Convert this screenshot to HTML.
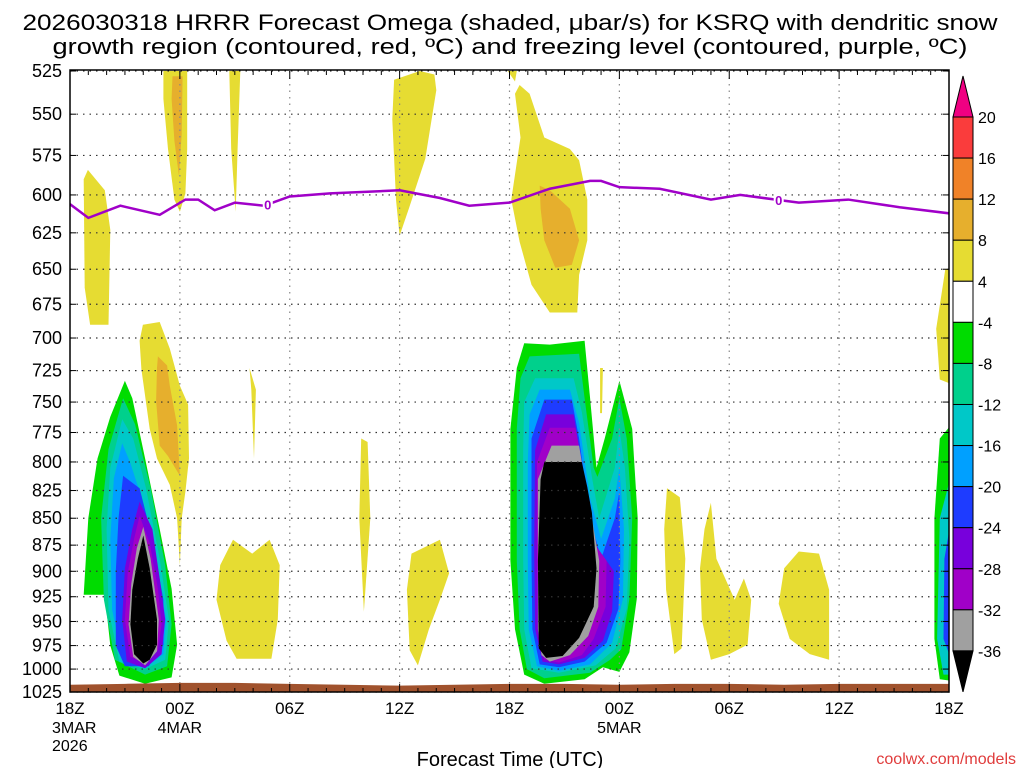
<!DOCTYPE html>
<html><head><meta charset="utf-8"><style>
body{margin:0;background:#fff;}
svg{display:block;font-family:"Liberation Sans","DejaVu Sans",sans-serif;}
</style></head><body>
<svg id="chart" width="1024" height="768" viewBox="0 0 1024 768" xmlns="http://www.w3.org/2000/svg">
<text x="510" y="30" text-anchor="middle" font-size="22" textLength="975" lengthAdjust="spacingAndGlyphs">2026030318 HRRR Forecast Omega (shaded, μbar/s) for KSRQ with dendritic snow</text>
<text x="510" y="54" text-anchor="middle" font-size="22" textLength="915" lengthAdjust="spacingAndGlyphs">growth region (contoured, red, ºC) and freezing level (contoured, purple, ºC)</text>
<defs><clipPath id="pc"><rect x="70" y="70" width="879" height="622"/></clipPath></defs>
<g id="shades" clip-path="url(#pc)"></g>
<g id="grid"></g>
<g id="terrain" clip-path="url(#pc)"></g>
<g id="frz" clip-path="url(#pc)"></g>
<rect x="70" y="70" width="879" height="622" fill="none" stroke="#000" stroke-width="1.5"/>
<g id="axes"></g>
<g id="cbar"></g>
<text x="510" y="766" text-anchor="middle" font-size="20">Forecast Time (UTC)</text>
<text x="1016" y="764" text-anchor="end" font-size="16" fill="#e03c3c">coolwx.com/models</text>
</svg>
<script>
// axis data
const pressureTicks=[525,550,575,600,625,650,675,700,725,750,775,800,825,850,875,900,925,950,975,1000,1025];
const timeTickHours=[0,6,12,18,24,30,36,42,48];
const timeTickLabels=["18Z","00Z","06Z","12Z","18Z","00Z","06Z","12Z","18Z"];
const dateLabels=[["3MAR",0],["2026",0],["4MAR",6],["5MAR",30]];
const cbarLevels=[20,16,12,8,4,-4,-8,-12,-16,-20,-24,-28,-32,-36];
const cbarColors=["#f00082","#fa3c3c","#f08228","#e6af2d","#e6dc32","#ffffff","#00dc00","#00d08c","#00c8c8","#00a0ff","#1e3cff","#7800dc","#a000c8","#a0a0a0","#000000"];
// freezing level (hours, hPa)
const frzHours=[0,1,2.75,4.9,6.3,7.0,7.9,9.0,10.6,12,14.2,18,20.2,21.8,24,26.2,28.4,29,30,32.2,35,36.6,39.8,42.5,45.3,48];
const frzPres=[606,615,607,613,603,603,610,605,607,601,599,597,602,607,605,596,591,591,595,596,603,600,605,603,608,612];
const frzLabelHours=[10.8,38.7];
// terrain surface pressure
const sfcHours=[0,3,6,9,12,15,18,21,24,27,30,33,36,39,42,45,48];
const sfcPres=[1017,1016,1015,1015,1016,1017,1018,1017,1016,1016,1017,1016,1016,1017,1016,1016,1016];
// shaded omega regions: [colorIndex, [[hour,hPa],...]]
const regions=[
 [4,[[0.98,584],[1.9,597],[2.2,623],[2.1,690],[1.1,690],[0.8,663],[0.75,590]]],
 [4,[[5.1,525],[6.4,525],[6.4,571],[6.3,599],[6.0,611],[5.7,603],[5.35,571],[5.1,541]]],
 [3,[[5.6,528],[6.15,528],[6.1,562],[5.95,588],[5.7,566],[5.55,541]]],
 [4,[[8.7,525],[9.3,525],[9.15,571],[9.05,611],[8.8,571]]],
 [4,[[17.7,530],[19.1,525],[19.9,527],[20.0,536],[19.4,577],[18.5,609],[18.0,627],[17.8,603],[17.6,553]]],
 [4,[[23.9,525],[24.4,525],[24.3,531]]],
 [4,[[24.55,533],[25.1,538],[25.9,564],[27.3,571],[27.8,578],[28.25,603],[28.25,630],[27.8,654],[27.7,681],[26.2,681],[25.2,661],[24.55,631],[24.1,603],[24.6,564],[24.3,538]]],
 [3,[[25.65,594],[26.2,597],[27.3,609],[27.8,630],[27.4,647],[26.5,649],[25.9,630],[25.7,609]]],
 [4,[[3.98,690],[4.9,688],[5.45,708],[6.0,737],[6.45,752],[6.5,797],[6.3,826],[6.1,850],[6.0,894],[5.85,850],[5.45,820],[4.75,797],[4.35,772],[3.9,724],[3.8,702]]],
 [3,[[4.8,714],[5.3,721],[5.45,737],[5.85,769],[6.0,812],[5.35,795],[4.9,786],[4.7,749],[4.75,723]]],
 [4,[[9.8,723],[10.15,740],[10.05,797],[9.9,740]]],
 [4,[[15.9,780],[16.25,783],[16.4,850],[16.05,940],[15.8,850]]],
 [4,[[8.9,870],[9.95,883],[10.9,870],[11.45,894],[11.35,948],[11.0,989],[9.1,989],[8.55,970],[8.0,928],[8.2,894]]],
 [4,[[20.2,870],[20.7,902],[20.2,928],[19.6,958],[19.0,996],[18.55,980],[18.4,918],[18.65,883]]],
 [4,[[32.6,823],[33.3,831],[33.6,888],[33.4,978],[33.0,984],[32.55,918],[32.45,860]]],
 [4,[[35.0,836],[35.3,888],[36.3,928],[36.8,907],[37.2,928],[37.0,974],[36.0,984],[35.0,990],[34.5,948],[34.4,897],[34.65,860]]],
 [4,[[39.8,881],[40.9,883],[41.45,918],[41.45,990],[40.4,984],[39.3,968],[38.7,932],[39.0,897]]],
 [4,[[47.8,650],[48.2,650],[48.2,736],[47.5,732],[47.3,693]]],
 [4,[[28.95,723],[29.1,723],[29.05,759],[28.95,759]]],
 // left core
 [6,[[3.0,733],[3.4,747],[4.1,797],[4.9,860],[5.55,917],[5.85,974],[5.55,1009],[4.1,1016],[2.7,1007],[2.2,975],[1.9,923],[0.75,923],[1.0,850],[1.5,797],[2.2,762]]],
 [7,[[2.9,747],[3.55,768],[4.4,823],[5.2,894],[5.55,953],[5.3,997],[4.1,1006],[2.45,990],[1.85,928],[1.7,850],[2.1,789]]],
 [8,[[2.85,764],[3.45,780],[4.15,823],[4.9,888],[5.4,948],[5.2,990],[4.1,1000],[2.7,992],[2.1,938],[2.0,860],[2.2,805]]],
 [9,[[2.85,784],[3.3,801],[3.9,831],[4.7,888],[5.25,948],[5.1,984],[4.1,999],[2.9,993],[2.3,938],[2.2,869],[2.4,814]]],
 [10,[[2.9,812],[3.8,823],[4.5,869],[5.1,928],[5.1,974],[4.3,997],[3.0,997],[2.5,975],[2.5,900],[2.65,850]]],
 [11,[[3.8,835],[4.5,860],[4.9,907],[5.2,948],[5.0,984],[4.1,999],[3.1,992],[2.85,948],[3.0,897],[3.4,860]]],
 [12,[[3.8,848],[4.35,873],[4.8,917],[5.0,953],[4.8,980],[4.1,994],[3.3,987],[3.0,948],[3.15,902],[3.5,869]]],
 [13,[[4.0,858],[4.4,888],[4.85,948],[4.75,981],[4.1,996],[3.45,987],[3.2,953],[3.35,912],[3.65,878]]],
 [14,[[4.0,866],[4.35,897],[4.75,948],[4.75,974],[4.35,990],[4.0,994],[3.5,984],[3.3,953],[3.4,918],[3.7,888]]],
 // center core
 [6,[[24.4,723],[24.8,704],[26.2,705],[28.1,702],[28.4,747],[28.75,805],[29.2,780],[30.0,733],[30.7,772],[31.0,850],[30.95,927],[30.55,982],[30.0,1003],[29.1,998],[28.1,1011],[25.9,1016],[24.8,1006],[24.3,958],[24.05,890],[24.05,772]]],
 [7,[[24.6,731],[25.1,714],[27.8,712],[28.1,747],[28.6,805],[28.8,813],[29.6,780],[30.0,747],[30.4,780],[30.7,850],[30.55,927],[30.1,979],[29.5,990],[28.4,1004],[25.9,1010],[24.95,1000],[24.55,958],[24.4,890],[24.4,772]]],
 [8,[[24.8,750],[25.4,731],[27.5,731],[27.95,758],[28.5,813],[28.9,850],[29.75,805],[30.0,772],[30.3,805],[30.55,869],[30.4,937],[29.8,978],[28.7,996],[26.7,1004],[25.2,999],[24.8,958],[24.75,890],[24.75,789]]],
 [9,[[25.1,760],[25.65,740],[27.3,740],[27.8,767],[28.4,832],[29.0,869],[29.75,832],[30.0,805],[30.25,860],[30.2,927],[29.6,972],[28.4,995],[26.7,1002],[25.5,997],[25.05,958],[25.0,890],[25.0,800]]],
 [10,[[25.2,780],[25.9,748],[27.4,748],[27.8,780],[28.4,850],[29.0,888],[29.75,850],[30.0,826],[30.05,890],[29.95,937],[29.3,972],[28.1,992],[26.7,998],[25.65,995],[25.25,958],[25.2,890]]],
 [11,[[25.4,790],[26.0,760],[27.5,760],[27.9,797],[28.4,869],[29.3,890],[29.7,900],[29.6,940],[29.1,970],[28.1,988],[26.7,995],[25.8,992],[25.4,958],[25.35,880]]],
 [12,[[25.5,800],[26.2,771],[27.6,771],[28.0,805],[28.5,870],[29.3,890],[29.25,935],[28.6,968],[27.95,985],[26.7,993],[25.9,990],[25.55,958],[25.5,880]]],
 [13,[[25.55,815],[26.3,786],[27.8,786],[28.1,815],[28.5,850],[28.9,890],[28.85,935],[28.3,965],[27.3,985],[26.2,992],[25.75,985],[25.55,958],[25.55,880]]],
 [14,[[25.7,815],[25.9,800],[27.95,800],[28.25,822],[28.5,845],[28.75,897],[28.6,935],[27.8,967],[26.9,986],[26.0,988],[25.6,978],[25.55,890]]],
 // right edge
 [6,[[48.2,767],[47.5,780],[47.2,850],[47.2,968],[47.5,1011],[48.2,1013]]],
 [8,[[48.2,806],[47.5,850],[47.35,968],[47.7,1006],[48.2,1006]]],
 [10,[[48.2,842],[47.75,888],[47.7,968],[48.2,994]]]
];
const NS="http://www.w3.org/2000/svg";
const X0=70,X1=949,Y0=71,Y1=692;
const xs=h=>X0+(h/48)*(X1-X0);
const ys=p=>Y0+Math.log(p/525)/Math.log(1025/525)*(Y1-Y0);
function mk(tag,attrs,parent){const e=document.createElementNS(NS,tag);for(const k in attrs)e.setAttribute(k,attrs[k]);parent.appendChild(e);return e;}
const shades=document.getElementById('shades');
regions.forEach((r,i)=>{
 const pts=r[1].map(q=>xs(q[0]).toFixed(1)+','+ys(q[1]).toFixed(1)).join(' ');
 const e=mk('polygon',{points:pts,fill:cbarColors[r[0]]},shades);
 
 
});
const grid=document.getElementById('grid');
pressureTicks.forEach(p=>{
 const e=mk('line',{x1:X0,x2:X1,y1:ys(p),y2:ys(p),stroke:'#333','stroke-width':1.2,'stroke-dasharray':'1.5 5'},grid);
 
 
});
timeTickHours.slice(1,-1).forEach(h=>{
 const e=mk('line',{x1:xs(h),x2:xs(h),y1:Y0,y2:Y1,stroke:'#888','stroke-width':1.2,'stroke-dasharray':'1.5 5'},grid);
 
 
});
// terrain
const terr=document.getElementById('terrain');
let tp=sfcHours.map((h,i)=>xs(h)+','+ys(sfcPres[i])).join(' ')+' '+xs(48)+','+(Y1+2)+' '+xs(0)+','+(Y1+2);
const te=mk('polygon',{points:tp,fill:'#a0522d'},terr);


// freezing line
const frz=document.getElementById('frz');
const fl=mk('polyline',{points:frzHours.map((h,i)=>xs(h)+','+ys(frzPres[i])).join(' '),fill:'none',stroke:'#a000c8','stroke-width':2.5},frz);


frzLabelHours.forEach(h=>{
 let k=0;while(k<frzHours.length-2&&frzHours[k+1]<h)k++;
 const t=(h-frzHours[k])/(frzHours[k+1]-frzHours[k]);
 const p=frzPres[k]+t*(frzPres[k+1]-frzPres[k]);
 mk('rect',{x:xs(h)-5,y:ys(p)-7,width:10,height:14,fill:'#fff'},frz);
 const e=mk('text',{x:xs(h),y:ys(p)+5,'text-anchor':'middle','font-size':13,'font-weight':'bold',fill:'#a000c8'},frz);
 e.textContent='0';
 
 
});
// axes
const ax=document.getElementById('axes');
pressureTicks.forEach(p=>{
 const e=mk('text',{x:62,y:ys(p)+6,'text-anchor':'end','font-size':18},ax);
 e.textContent=p;
 
 
 mk('line',{x1:X0,x2:X0+6,y1:ys(p),y2:ys(p),stroke:'#000'},ax);
 mk('line',{x1:X1-6,x2:X1,y1:ys(p),y2:ys(p),stroke:'#000'},ax);
});
for(let h=0;h<=48;h+=1){const L=h%6==0?8:4;
 mk('line',{x1:xs(h),x2:xs(h),y1:Y1,y2:Y1-L,stroke:'#000'},ax);
 mk('line',{x1:xs(h),x2:xs(h),y1:Y0,y2:Y0+L,stroke:'#000'},ax);}
timeTickHours.forEach((h,i)=>{
 const e=mk('text',{x:xs(h),y:714,'text-anchor':'middle','font-size':17},ax);
 e.textContent=timeTickLabels[i];
 
 
});
let rowByHour={};
dateLabels.forEach(d=>{
 const row=rowByHour[d[1]]||0;rowByHour[d[1]]=row+1;
 const anchor=d[1]==0?'start':'middle';
 const e=mk('text',{x:d[1]==0?52:xs(d[1]),y:733+row*18,'text-anchor':anchor,'font-size':16},ax);
 e.textContent=d[0];
 
 
});
// colorbar
const cb=document.getElementById('cbar');
const cbTop=117,cbStep=41.07,cbx=953,cbw=20;
mk('polygon',{points:`${cbx},${cbTop} ${cbx+cbw},${cbTop} ${cbx+cbw/2},${cbTop-41}`,fill:cbarColors[0],stroke:'#000'},cb);
for(let i=1;i<cbarColors.length-1;i++){
 const e=mk('rect',{x:cbx,y:cbTop+(i-1)*cbStep,width:cbw,height:cbStep,fill:cbarColors[i],stroke:'#000','stroke-width':1},cb);
 
 
}
const cbBot=cbTop+(cbarColors.length-2)*cbStep;
mk('polygon',{points:`${cbx},${cbBot} ${cbx+cbw},${cbBot} ${cbx+cbw/2},${cbBot+41}`,fill:'#000',stroke:'#000'},cb);
cbarLevels.forEach((v,i)=>{
 const e=mk('text',{x:978,y:cbTop+i*cbStep+6,'font-size':16},cb);
 e.textContent=v;
 
 
});
</script>
</body></html>
